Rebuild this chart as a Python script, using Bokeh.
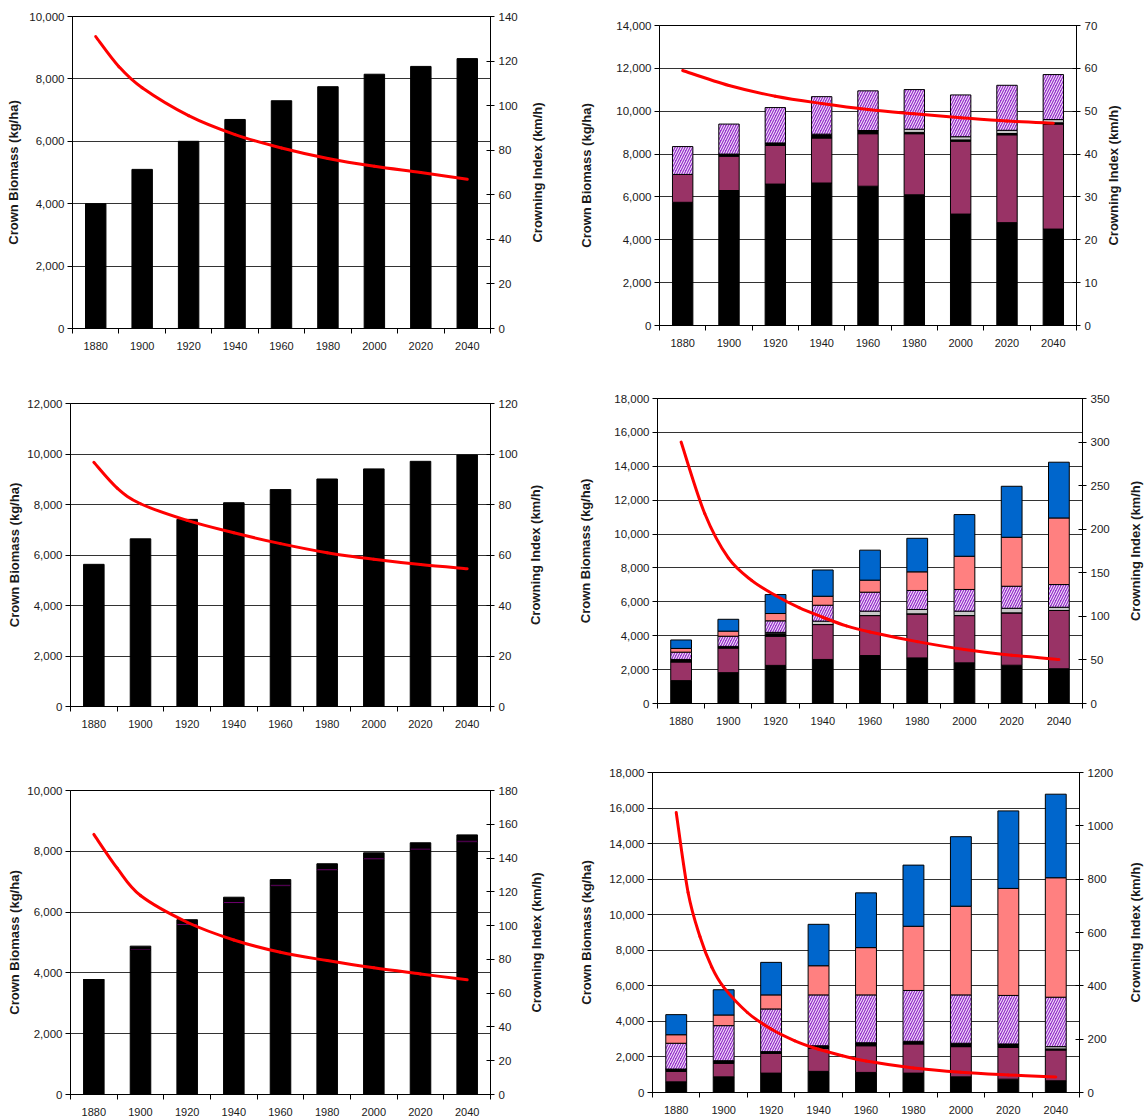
import math
from bokeh.plotting import figure
from bokeh.models import (Range1d, LinearAxis, FixedTicker, SingleIntervalTicker,
                          NumeralTickFormatter, ColumnDataSource)
from bokeh.layouts import column, row
from bokeh.embed import file_html
from bokeh.resources import INLINE

years = [1880, 1900, 1920, 1940, 1960, 1980, 2000, 2020, 2040]

# Panel A (top left)
a_black = [4000, 5100, 6000, 6700, 7300, 7750, 8150, 8400, 8650]
a_ci_years = [1880, 1890, 1900, 1920, 1940, 1960, 1980, 2000, 2020, 2040]
a_ci = [131, 117.5, 108, 95.5, 87, 81, 76.3, 72.8, 70, 67]

# Panel B (top right)
b_black = [5750, 6300, 6600, 6650, 6500, 6100, 5200, 4800, 4500]
b_plum = [1300, 1600, 1800, 2100, 2450, 2850, 3400, 4100, 4900]
b_dark = [0, 100, 120, 180, 150, 60, 60, 60, 60]
b_grey = [0, 0, 0, 0, 0, 150, 150, 150, 150]
b_hatch = [1300, 1400, 1650, 1750, 1850, 1850, 1950, 2100, 2100]
b_ci_years = [1880, 1900, 1920, 1940, 1960, 1980, 2000, 2020, 2040]
b_ci = [59.5, 56.0, 53.5, 51.8, 50.4, 49.4, 48.5, 47.7, 47.2]

# Panel C (middle left)
c_black = [5630, 6640, 7410, 8070, 8590, 9010, 9410, 9710, 9960]
c_ci_years = [1880, 1890, 1900, 1920, 1940, 1960, 1980, 2000, 2020, 2040]
c_ci = [96.7, 86.5, 80.3, 73.7, 68.8, 64.5, 60.9, 58.3, 56.2, 54.6]

# Panel D (middle right)
d_black = [1350, 1820, 2250, 2600, 2830, 2690, 2400, 2260, 2050]
d_plum = [1100, 1450, 1720, 2060, 2360, 2600, 2790, 3090, 3440]
d_dark = [150, 100, 150, 0, 0, 0, 0, 0, 0]
d_grey = [0, 0, 80, 200, 260, 260, 260, 270, 190]
d_hatch = [430, 600, 680, 940, 1120, 1120, 1280, 1300, 1340]
d_salmon = [220, 300, 430, 530, 710, 1100, 1960, 2890, 3930]
d_blue = [500, 700, 1120, 1550, 1770, 1980, 2460, 3010, 3290]
d_ci_years = [1880, 1890, 1900, 1910, 1920, 1930, 1940, 1950, 1960, 1980, 2000, 2020, 2040]
d_ci = [300, 218, 167, 141, 124, 110, 99, 89, 82, 71, 62, 55.5, 50.5]

# Panel E (bottom left)
e_black = [3780, 4750, 5560, 6280, 6850, 7360, 7720, 8040, 8300]
e_purple = [0, 50, 70, 70, 70, 70, 70, 70, 70]
e_dark = [0, 80, 120, 140, 150, 160, 160, 170, 170]
e_ci_years = [1880, 1890, 1900, 1920, 1940, 1960, 1980, 2000, 2020, 2040]
e_ci = [154, 134, 117.8, 102, 91.5, 84.2, 79.3, 75, 71.4, 67.9]

# Panel F (bottom right)
f_black = [600, 880, 1090, 1190, 1130, 1090, 880, 750, 660]
f_plum = [590, 760, 1110, 1290, 1500, 1640, 1700, 1790, 1730]
f_dark = [130, 150, 100, 150, 170, 150, 190, 190, 60]
f_grey = [0, 0, 0, 0, 0, 0, 0, 0, 130]
f_hatch = [1450, 1970, 2400, 2860, 2690, 2860, 2720, 2730, 2780]
f_salmon = [480, 600, 790, 1640, 2660, 3610, 4990, 6020, 6720]
f_blue = [1130, 1420, 1830, 2330, 3080, 3440, 3910, 4360, 4700]
f_ci_years = [1880, 1885, 1890, 1895, 1900, 1910, 1920, 1930, 1940, 1950, 1960,
              1980, 2000, 2020, 2040]
f_ci = [1050, 750, 585, 470, 395, 300, 238, 194, 162, 138, 118, 92, 76, 66, 58]

FONT = "Liberation Sans"
BLACK = "#000000"
PLUM = "#993366"
GREY = "#C8C8C8"
VIOLET = "#9933CC"
SALMON = "#FF8080"
BLUE = "#0066CC"
DPURPLE = "#6A006A"
TXT = "#1a1a1a"

Y_LABEL = "Crown Biomass (kg/ha)"
CI_LABEL = "Crowning Index (km/h)"


def bezier_source(xs, ys):
    # Catmull-Rom style smoothing rendered with Bezier segments
    n = len(xs)
    d = dict(x0=[], y0=[], x1=[], y1=[], cx0=[], cy0=[], cx1=[], cy1=[])
    for i in range(n - 1):
        a = i - 1 if i > 0 else i
        b = i + 2 if i + 2 < n else i + 1
        d["x0"].append(xs[i]); d["y0"].append(ys[i])
        d["x1"].append(xs[i + 1]); d["y1"].append(ys[i + 1])
        d["cx0"].append(xs[i] + (xs[i + 1] - xs[a]) / 6.0)
        d["cy0"].append(ys[i] + (ys[i + 1] - ys[a]) / 6.0)
        d["cx1"].append(xs[i + 1] - (xs[b] - xs[i]) / 6.0)
        d["cy1"].append(ys[i + 1] - (ys[b] - ys[i]) / 6.0)
    return ColumnDataSource(d)


def make_panel(layers, ci_x, ci, ymax, ci_max, ci_step, w, h, borders, l_als):
    bl, br, bt, bb = borders
    p = figure(width=w, height=h, output_backend="svg", toolbar_location=None,
               x_range=Range1d(years[0] - 10, years[-1] + 10),
               y_range=Range1d(0, ymax),
               min_border_left=bl, min_border_right=br,
               min_border_top=bt, min_border_bottom=bb,
               background_fill_color="white", border_fill_color="white")
    p.outline_line_color = "black"
    p.outline_line_width = 1

    data = {"year": years}
    names, fills, hatches = [], [], []
    for name, vals, fill, hatch in layers:
        data[name] = vals
        names.append(name)
        fills.append(fill)
        hatches.append(hatch)
    src = ColumnDataSource(data)
    p.vbar_stack(names, x="year", width=8.8, source=src,
                 fill_color=fills, line_color="black", line_width=1,
                 hatch_pattern=hatches, hatch_color="white",
                 hatch_scale=5, hatch_weight=1.0)

    p.extra_y_ranges = {"ci": Range1d(0, ci_max)}
    p.bezier(x0="x0", y0="y0", x1="x1", y1="y1", cx0="cx0", cy0="cy0",
             cx1="cx1", cy1="cy1", source=bezier_source(ci_x, ci),
             y_range_name="ci", line_color="#FF0000", line_width=3,
             line_cap="round")

    yticker = SingleIntervalTicker(interval=2000)
    ya = p.yaxis[0]
    ya.ticker = yticker
    ya.formatter = NumeralTickFormatter(format="0,0")
    ya.axis_label = Y_LABEL
    ya.axis_label_text_font = FONT
    ya.axis_label_text_font_size = "13px"
    ya.axis_label_text_font_style = "bold"
    ya.axis_label_text_color = TXT
    ya.axis_label_standoff = l_als
    ya.major_label_text_font = FONT
    ya.major_label_text_font_size = "11.5px"
    ya.major_label_text_color = TXT
    ya.major_label_standoff = 3
    ya.major_tick_out = 5
    ya.major_tick_in = 0
    ya.minor_tick_out = 0
    ya.minor_tick_in = 0
    ya.axis_line_color = "black"

    ra = LinearAxis(y_range_name="ci", ticker=SingleIntervalTicker(interval=ci_step))
    ra.major_label_text_font = FONT
    ra.major_label_text_font_size = "11.5px"
    ra.major_label_text_color = TXT
    ra.major_label_standoff = 4
    ra.major_tick_out = 4
    ra.major_tick_in = 4
    ra.minor_tick_out = 0
    ra.minor_tick_in = 0
    ra.axis_line_color = "black"
    p.add_layout(ra, "right")

    bounds = [y - 10 for y in years] + [years[-1] + 10]
    xa = p.xaxis[0]
    xa.ticker = FixedTicker(ticks=years, minor_ticks=bounds)
    xa.major_tick_out = 0
    xa.major_tick_in = 0
    xa.minor_tick_out = 5
    xa.minor_tick_in = 0
    xa.major_label_standoff = 8
    xa.major_label_text_font = FONT
    xa.major_label_text_font_size = "11px"
    xa.major_label_text_color = TXT
    xa.axis_line_color = "black"

    p.xgrid.visible = False
    p.ygrid.ticker = yticker
    p.ygrid.grid_line_color = "#333333"
    p.ygrid.grid_line_width = 1
    return p


def side_label(w, h, bt, bb, center):
    # narrow strip carrying the right-hand axis title (reads bottom to top)
    q = figure(width=w, height=h, output_backend="svg", toolbar_location=None,
               x_range=Range1d(0, 1), y_range=Range1d(0, 1),
               x_axis_location=None, y_axis_location="left",
               min_border_left=int(round(center + 7.5)), min_border_right=0,
               min_border_top=bt, min_border_bottom=bb,
               background_fill_color="white", border_fill_color="white")
    q.outline_line_color = None
    q.xgrid.visible = False
    q.ygrid.visible = False
    ax = q.yaxis[0]
    ax.ticker = FixedTicker(ticks=[])
    ax.axis_line_color = None
    ax.major_tick_out = 0
    ax.major_tick_in = 0
    ax.minor_tick_out = 0
    ax.minor_tick_in = 0
    ax.major_label_standoff = 0
    ax.axis_label = CI_LABEL
    ax.axis_label_standoff = 0
    ax.axis_label_text_font = FONT
    ax.axis_label_text_font_size = "13px"
    ax.axis_label_text_font_style = "bold"
    ax.axis_label_text_color = TXT
    return q


pA = make_panel([("black", a_black, BLACK, " ")], a_ci_years, a_ci, 10000, 140, 20,
                526, 370, (72, 36, 16, 42), 5)
lA = side_label(49, 370, 16, 42, 8)
pB = make_panel([("black", b_black, BLACK, " "), ("plum", b_plum, PLUM, " "),
                 ("dark", b_dark, BLACK, " "), ("grey", b_grey, GREY, " "),
                 ("hatch", b_hatch, VIOLET, "/")], b_ci_years, b_ci, 14000, 70, 10,
                525, 370, (84, 24, 25, 45), 19)
lB = side_label(46, 370, 25, 45, 13)
pC = make_panel([("black", c_black, BLACK, " ")], c_ci_years, c_ci, 12000, 120, 20,
                524, 378, (70, 34, 33, 42), 2)
lC = side_label(51, 378, 33, 42, 8)
pD = make_panel([("black", d_black, BLACK, " "), ("plum", d_plum, PLUM, " "),
                 ("dark", d_dark, BLACK, " "), ("grey", d_grey, GREY, " "),
                 ("hatch", d_hatch, VIOLET, "/"), ("salmon", d_salmon, SALMON, " "),
                 ("blue", d_blue, BLUE, " ")], d_ci_years, d_ci, 18000, 350, 50,
                537, 378, (80, 30, 28, 45), 18)
lD = side_label(34, 378, 28, 45, 23)
pE = make_panel([("black", e_black, BLACK, " "), ("purple", e_purple, DPURPLE, " "),
                 ("dark", e_dark, BLACK, " ")], e_ci_years, e_ci, 10000, 180, 20,
                525, 371, (70, 35, 42, 25), 2)
lE = side_label(50, 371, 42, 25, 8)
pF = make_panel([("black", f_black, BLACK, " "), ("plum", f_plum, PLUM, " "),
                 ("dark", f_dark, BLACK, " "), ("grey", f_grey, GREY, " "),
                 ("hatch", f_hatch, VIOLET, "/"), ("salmon", f_salmon, SALMON, " "),
                 ("blue", f_blue, BLUE, " ")], f_ci_years, f_ci, 18000, 1200, 200,
                541, 371, (77, 36, 24, 27), 12)
lF = side_label(30, 371, 24, 27, 19)

layout = column(row(column(pA), column(lA), column(pB), column(lB)),
                row(column(pC), column(lC), column(pD), column(lD)),
                row(column(pE), column(lE), column(pF), column(lF)))

with open("out.html", "w") as fh:
    fh.write(file_html(layout, INLINE))
